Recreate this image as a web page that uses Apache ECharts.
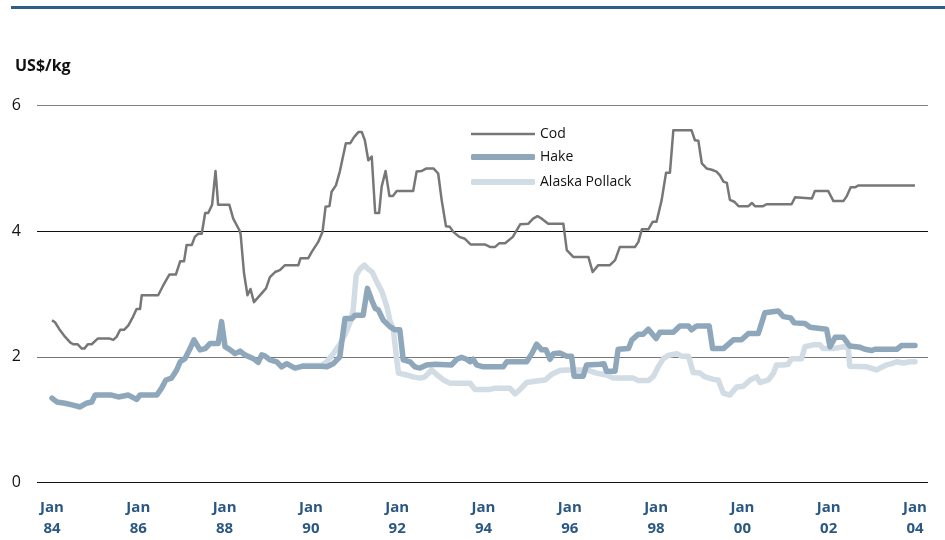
<!DOCTYPE html>
<html>
<head>
<meta charset="utf-8">
<script src="https://cdn.jsdelivr.net/npm/echarts@6/dist/echarts.min.js"></script>
<style>
  html, body { margin: 0; padding: 0; background: #fff; }
  #chart { width: 945px; height: 540px; }
</style>
</head>
<body>
<div id="chart"></div>
<script>
// [year, US$/kg], change points only
const codPoints = [
  [1984.00, 2.58], [1984.07, 2.55], [1984.17, 2.44], [1984.30, 2.32], [1984.42, 2.23],
  [1984.49, 2.20], [1984.59, 2.20], [1984.69, 2.13], [1984.75, 2.13], [1984.83, 2.20],
  [1984.92, 2.20], [1985.06, 2.29], [1985.34, 2.29], [1985.42, 2.27], [1985.50, 2.32],
  [1985.58, 2.43], [1985.67, 2.43], [1985.77, 2.50], [1985.88, 2.64], [1985.96, 2.76],
  [1986.04, 2.76], [1986.08, 2.98], [1986.46, 2.98], [1986.58, 3.14], [1986.72, 3.31],
  [1986.87, 3.31], [1986.97, 3.52], [1987.06, 3.52], [1987.12, 3.78], [1987.24, 3.78],
  [1987.31, 3.91], [1987.39, 3.96], [1987.47, 3.96], [1987.55, 4.29], [1987.62, 4.29],
  [1987.71, 4.42], [1987.79, 4.96], [1987.85, 4.42], [1988.11, 4.42], [1988.20, 4.20],
  [1988.34, 4.02], [1988.37, 3.96], [1988.45, 3.33], [1988.53, 2.98], [1988.60, 3.08],
  [1988.68, 2.87], [1988.96, 3.09], [1989.05, 3.27], [1989.17, 3.35], [1989.28, 3.38],
  [1989.40, 3.46], [1989.71, 3.46], [1989.76, 3.57], [1989.94, 3.57], [1990.02, 3.67],
  [1990.17, 3.83], [1990.27, 3.99], [1990.34, 4.39], [1990.43, 4.40], [1990.48, 4.63],
  [1990.58, 4.73], [1990.67, 4.95], [1990.81, 5.40], [1990.91, 5.40], [1991.00, 5.50],
  [1991.10, 5.58], [1991.18, 5.58], [1991.25, 5.45], [1991.33, 5.13], [1991.41, 5.19],
  [1991.49, 4.29], [1991.58, 4.29], [1991.64, 4.71], [1991.73, 4.96], [1991.82, 4.56],
  [1991.90, 4.56], [1991.99, 4.64], [1992.37, 4.64], [1992.45, 4.95], [1992.57, 4.96],
  [1992.68, 5.00], [1992.84, 5.00], [1992.95, 4.92], [1993.03, 4.50], [1993.13, 4.08],
  [1993.22, 4.07], [1993.30, 3.99], [1993.44, 3.91], [1993.57, 3.88], [1993.70, 3.79],
  [1994.03, 3.79], [1994.15, 3.75], [1994.27, 3.75], [1994.37, 3.81], [1994.50, 3.81],
  [1994.68, 3.91], [1994.85, 4.11], [1995.04, 4.12], [1995.15, 4.20], [1995.25, 4.24],
  [1995.35, 4.20], [1995.50, 4.12], [1995.85, 4.12], [1995.93, 3.70], [1996.08, 3.59],
  [1996.43, 3.59], [1996.53, 3.35], [1996.66, 3.46], [1996.93, 3.46], [1997.05, 3.54],
  [1997.16, 3.75], [1997.51, 3.75], [1997.59, 3.83], [1997.67, 4.03], [1997.82, 4.03],
  [1997.92, 4.15], [1998.01, 4.15], [1998.13, 4.50], [1998.23, 4.93], [1998.32, 4.93],
  [1998.40, 5.61], [1998.82, 5.61], [1998.90, 5.45], [1998.98, 5.44], [1999.06, 5.08],
  [1999.17, 5.00], [1999.29, 4.98], [1999.40, 4.95], [1999.48, 4.89], [1999.56, 4.79],
  [1999.64, 4.77], [1999.71, 4.50], [1999.81, 4.47], [1999.91, 4.40], [2000.14, 4.40],
  [2000.22, 4.45], [2000.29, 4.40], [2000.48, 4.40], [2000.56, 4.43], [2001.14, 4.43],
  [2001.22, 4.54], [2001.61, 4.52], [2001.68, 4.64], [2001.99, 4.64], [2002.11, 4.48],
  [2002.34, 4.48], [2002.42, 4.56], [2002.51, 4.70], [2002.61, 4.70], [2002.69, 4.73],
  [2004.00, 4.73]
];

const hakePoints = [
  [1984.00, 1.34], [1984.11, 1.28], [1984.30, 1.26], [1984.49, 1.23], [1984.65, 1.20],
  [1984.80, 1.26], [1984.92, 1.28], [1985.00, 1.39], [1985.38, 1.39], [1985.54, 1.36],
  [1985.77, 1.39], [1985.96, 1.32], [1986.04, 1.39], [1986.43, 1.39], [1986.54, 1.50],
  [1986.64, 1.63], [1986.77, 1.66], [1986.89, 1.79], [1986.97, 1.92], [1987.08, 1.97],
  [1987.20, 2.13], [1987.29, 2.27], [1987.43, 2.11], [1987.55, 2.13], [1987.66, 2.21],
  [1987.85, 2.21], [1987.93, 2.56], [1988.01, 2.16], [1988.13, 2.11], [1988.24, 2.05],
  [1988.36, 2.09], [1988.47, 2.03], [1988.67, 1.97], [1988.78, 1.91], [1988.86, 2.03],
  [1988.94, 2.01], [1989.05, 1.95], [1989.21, 1.92], [1989.32, 1.84], [1989.44, 1.89],
  [1989.63, 1.82], [1989.82, 1.85], [1990.25, 1.85], [1990.37, 1.84], [1990.52, 1.89],
  [1990.67, 2.00], [1990.79, 2.61], [1990.95, 2.61], [1991.02, 2.66], [1991.21, 2.66],
  [1991.31, 3.09], [1991.41, 2.90], [1991.49, 2.77], [1991.56, 2.75], [1991.68, 2.58],
  [1991.83, 2.48], [1991.95, 2.43], [1992.06, 2.43], [1992.14, 1.95], [1992.30, 1.92],
  [1992.41, 1.84], [1992.53, 1.82], [1992.68, 1.87], [1992.88, 1.88], [1993.26, 1.87],
  [1993.38, 1.96], [1993.49, 1.99], [1993.61, 1.96], [1993.69, 1.92], [1993.76, 1.96],
  [1993.84, 1.87], [1993.99, 1.84], [1994.46, 1.84], [1994.54, 1.92], [1995.00, 1.92],
  [1995.12, 2.05], [1995.23, 2.20], [1995.35, 2.11], [1995.45, 2.11], [1995.54, 1.96],
  [1995.62, 2.05], [1995.77, 2.06], [1995.93, 2.01], [1996.04, 2.01], [1996.10, 1.69],
  [1996.31, 1.69], [1996.39, 1.87], [1996.70, 1.88], [1996.79, 1.89], [1996.85, 1.77],
  [1997.05, 1.77], [1997.12, 2.12], [1997.36, 2.13], [1997.44, 2.27], [1997.59, 2.36],
  [1997.70, 2.36], [1997.82, 2.44], [1998.00, 2.29], [1998.09, 2.39], [1998.40, 2.39],
  [1998.55, 2.49], [1998.75, 2.49], [1998.82, 2.43], [1998.94, 2.49], [1999.23, 2.49],
  [1999.31, 2.13], [1999.56, 2.13], [1999.79, 2.27], [1999.98, 2.27], [2000.14, 2.37],
  [2000.37, 2.37], [2000.52, 2.70], [2000.83, 2.73], [2000.95, 2.64], [2001.12, 2.62],
  [2001.20, 2.54], [2001.45, 2.53], [2001.57, 2.47], [2001.95, 2.44], [2002.03, 2.16],
  [2002.15, 2.31], [2002.34, 2.31], [2002.49, 2.17], [2002.73, 2.15], [2002.84, 2.12],
  [2003.00, 2.10], [2003.07, 2.12], [2003.58, 2.12], [2003.69, 2.18], [2004.00, 2.18]
];

const pollockPoints = [
  [1989.82, 1.86], [1990.25, 1.86], [1990.37, 1.92], [1990.52, 2.05], [1990.67, 2.20],
  [1990.79, 2.35], [1990.91, 2.55], [1990.98, 2.75], [1991.05, 3.30], [1991.14, 3.40],
  [1991.24, 3.46], [1991.32, 3.40], [1991.42, 3.35], [1991.53, 3.19], [1991.65, 3.03],
  [1991.76, 2.80], [1991.83, 2.58], [1991.91, 2.43], [1991.99, 1.95], [1992.03, 1.74],
  [1992.22, 1.71], [1992.37, 1.68], [1992.53, 1.66], [1992.64, 1.68], [1992.80, 1.79],
  [1992.91, 1.72], [1993.07, 1.63], [1993.22, 1.58], [1993.69, 1.58], [1993.80, 1.48],
  [1994.15, 1.48], [1994.27, 1.50], [1994.61, 1.50], [1994.73, 1.41], [1994.85, 1.48],
  [1995.00, 1.59], [1995.19, 1.61], [1995.43, 1.63], [1995.58, 1.72], [1995.77, 1.78],
  [1995.93, 1.79], [1996.39, 1.79], [1996.62, 1.74], [1996.85, 1.71], [1997.01, 1.66],
  [1997.47, 1.66], [1997.59, 1.62], [1997.82, 1.62], [1997.94, 1.69], [1998.05, 1.84],
  [1998.17, 1.97], [1998.28, 2.02], [1998.48, 2.05], [1998.59, 2.01], [1998.75, 2.01],
  [1998.86, 1.75], [1999.02, 1.74], [1999.13, 1.68], [1999.33, 1.64], [1999.44, 1.63],
  [1999.56, 1.42], [1999.71, 1.39], [1999.87, 1.52], [2000.02, 1.53], [2000.18, 1.63],
  [2000.33, 1.68], [2000.41, 1.59], [2000.60, 1.63], [2000.72, 1.74], [2000.79, 1.87],
  [2000.95, 1.87], [2001.06, 1.88], [2001.14, 1.97], [2001.37, 1.97], [2001.45, 2.16],
  [2001.64, 2.19], [2001.80, 2.19], [2001.87, 2.13], [2002.11, 2.13], [2002.34, 2.16],
  [2002.45, 2.15], [2002.49, 1.85], [2002.88, 1.84], [2003.11, 1.79], [2003.19, 1.82],
  [2003.34, 1.87], [2003.46, 1.89], [2003.58, 1.92], [2003.73, 1.90], [2003.88, 1.92],
  [2004.00, 1.92]
];

const seriesNames = ['Cod', 'Hake', 'Alaska Pollack'];
const yTicks = [0, 2, 4, 6];
const unitLabel = 'US$/kg';

const font = '"Open Sans", "Noto Sans", sans-serif';
const codColor = '#777777';
const hakeColor = '#8fa7ba';
const pollockColor = '#d1dce4';

const chart = echarts.init(document.getElementById('chart'), null, { renderer: 'canvas' });

// one legend per series so each key line can have its own thickness
const legendBase = {
  orient: 'vertical',
  left: 466,
  itemWidth: 64,
  itemGap: 10,
  textStyle: { fontFamily: font, fontSize: 14, color: '#111' }
};

const option = {
  animation: false,
  backgroundColor: '#fff',
  title: {
    text: unitLabel,
    left: 10,
    top: 53,
    textStyle: { fontFamily: font, fontSize: 16, fontWeight: 'bold', color: '#111' }
  },
  graphic: [
    { type: 'rect', left: 11, top: 6, shape: { width: 934, height: 3 }, style: { fill: '#2e5d87' } }
  ],
  legend: [
    Object.assign({}, legendBase, { data: [seriesNames[0]], top: 122, icon: 'rect', itemHeight: 2.5 }),
    Object.assign({}, legendBase, { data: [seriesNames[1]], top: 145, icon: 'roundRect', itemHeight: 6 }),
    Object.assign({}, legendBase, { data: [seriesNames[2]], top: 170, icon: 'roundRect', itemHeight: 6 })
  ],
  grid: [
    { left: 37, right: 17, top: 105.7, bottom: 57.7 },
    { left: 52, right: 30, top: 105.7, bottom: 57.7 }
  ],
  xAxis: [
    { gridIndex: 0, type: 'value', min: 0, max: 1, show: false },
    {
      gridIndex: 1, type: 'value', min: 1984, max: 2004, interval: 2,
      axisLine: { show: false }, axisTick: { show: false }, splitLine: { show: false },
      axisLabel: {
        showMinLabel: true, showMaxLabel: true,
        margin: 15, lineHeight: 21,
        fontFamily: font, fontSize: 15, fontWeight: 'bold', color: '#2b5883',
        formatter: v => 'Jan\n' + String(v).slice(2)
      }
    }
  ],
  yAxis: [
    {
      gridIndex: 0, type: 'value', min: yTicks[0], max: yTicks[yTicks.length - 1], interval: 2,
      axisLine: { show: false }, axisTick: { show: false },
      splitLine: { lineStyle: { color: ['#111', '#777', '#111', '#808080'], width: 1.2 } },
      axisLabel: { margin: 16, fontFamily: font, fontSize: 16, color: '#111' }
    },
    { gridIndex: 1, type: 'value', min: 0, max: 6, show: false }
  ],
  series: [
    {
      name: 'Alaska Pollack', type: 'line', xAxisIndex: 1, yAxisIndex: 1,
      data: pollockPoints, symbol: 'none', z: 2,
      lineStyle: { color: pollockColor, width: 5.5, join: 'round', cap: 'round' },
      itemStyle: { color: pollockColor }
    },
    {
      name: 'Hake', type: 'line', xAxisIndex: 1, yAxisIndex: 1,
      data: hakePoints, symbol: 'none', z: 3,
      lineStyle: { color: hakeColor, width: 5.5, join: 'round', cap: 'round' },
      itemStyle: { color: hakeColor }
    },
    {
      name: 'Cod', type: 'line', xAxisIndex: 1, yAxisIndex: 1,
      data: codPoints, symbol: 'none', z: 4,
      lineStyle: { color: codColor, width: 2.5, join: 'round' },
      itemStyle: { color: codColor }
    }
  ]
};

chart.setOption(option);
</script>
</body>
</html>
